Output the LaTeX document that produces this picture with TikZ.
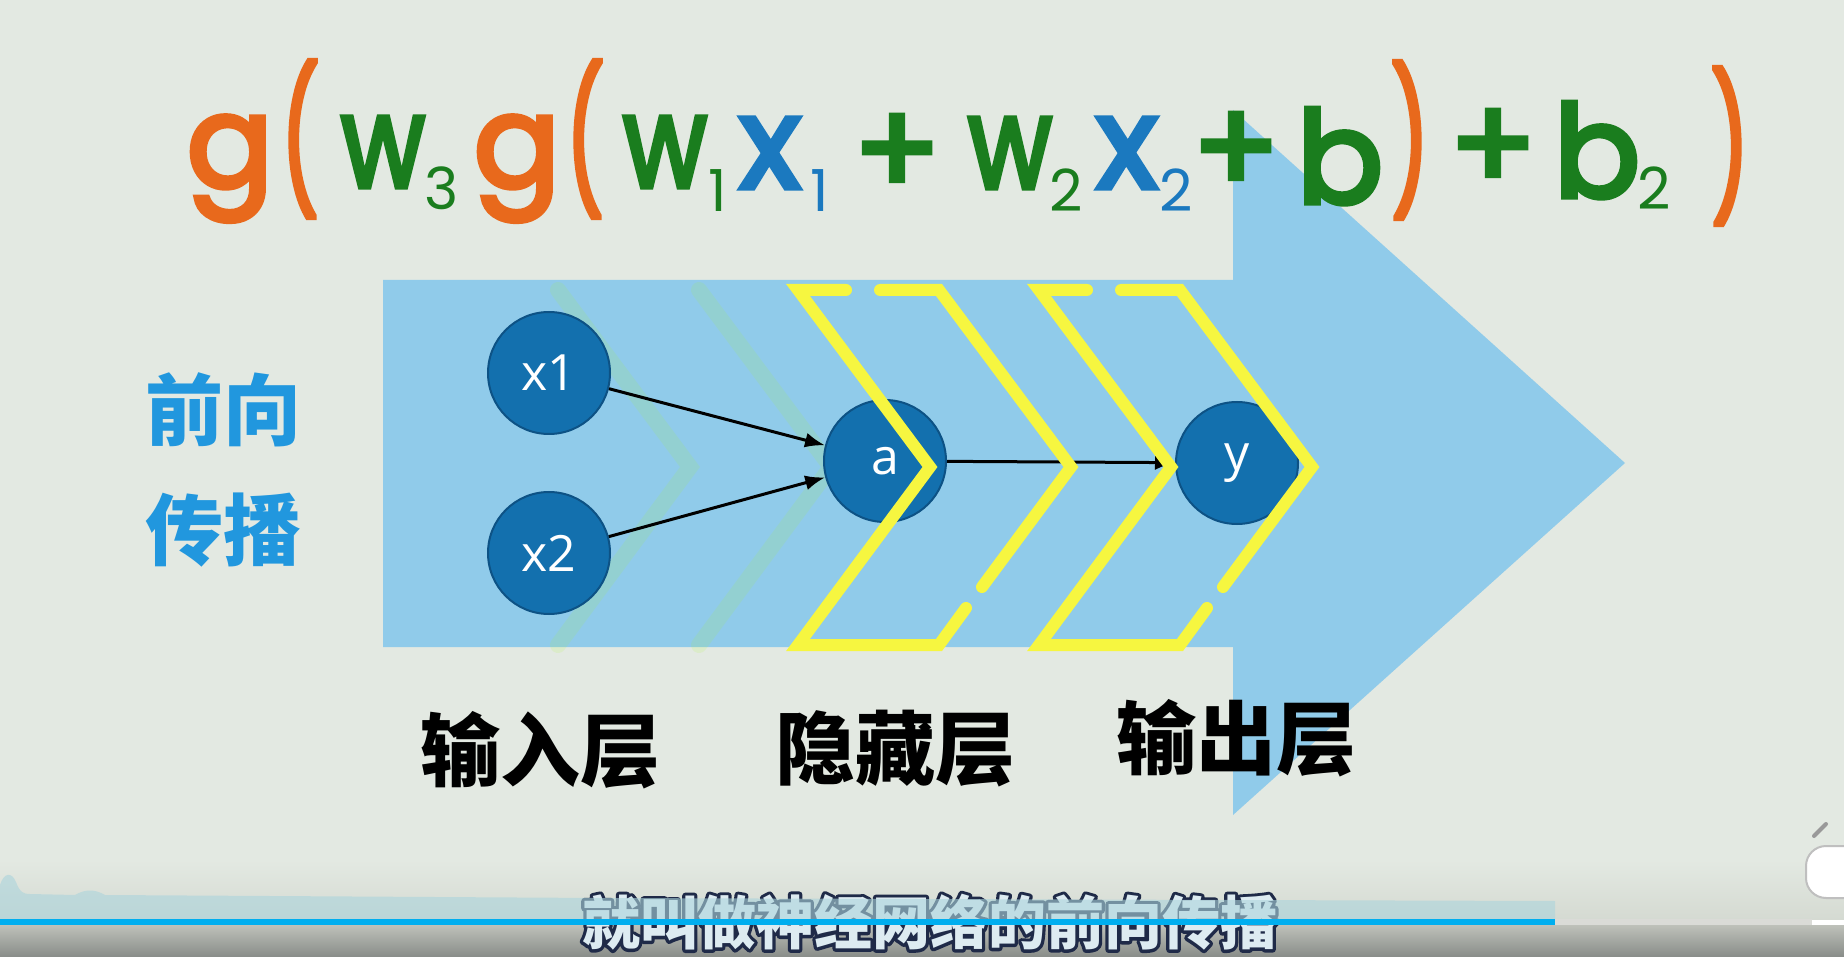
\documentclass[tikz,border=0pt]{standalone}
\usepackage{fontspec}
\usetikzlibrary{arrows.meta}
\newfontfamily\cjk{Noto Sans CJK SC}
\newfontfamily\formfont{Poppins}[FakeBold=4]
\newfontfamily\subfont{Poppins}
\newfontfamily\nodefont{Open Sans}
\definecolor{bgcol}{HTML}{E3E9E2}
\definecolor{arrowblue}{HTML}{90CBEA}
\definecolor{nodeblue}{HTML}{1370AE}
\definecolor{nodeedge}{HTML}{0D5285}
\definecolor{chevyellow}{HTML}{F6F640}
\definecolor{gorange}{HTML}{E8691C}
\definecolor{wgreen}{HTML}{1A7D1E}
\definecolor{xblue}{HTML}{1B79BF}
\definecolor{labelblue}{HTML}{2197DE}
\definecolor{barblue}{HTML}{00AEEF}
\definecolor{wavecol}{HTML}{ABD4DC}
\definecolor{subfill}{HTML}{DDEBF1}
\definecolor{subedge}{HTML}{1F2A48}
\definecolor{striptop}{HTML}{D5DAD2}
\definecolor{barrest}{HTML}{DADBD7}
\definecolor{ctrltop}{HTML}{BEC1BA}
\definecolor{ctrlbot}{HTML}{888C88}

\tikzset{
  neuron/.style={circle, minimum size=61pt, inner sep=0pt, fill=nodeblue, draw=nodeedge, line width=1pt, text=white, font=\nodefont\fontsize{25}{25}\selectfont},
  link/.style={-{Latex[length=10pt,width=7.5pt]}, line width=1.5pt, black},
  chevron/.style={chevyellow, line width=6pt, line cap=round, line join=miter},
  glyph/.style={inner sep=0pt, anchor=base, font=\formfont\fontsize{64}{64}\selectfont},
  subglyph/.style={inner sep=0pt, anchor=base, font=\subfont\fontsize{29}{29}\selectfont},
  paren/.style={inner sep=0pt, text=gorange, font=\formfont\fontsize{70}{70}\selectfont},
  layername/.style={inner sep=0pt, font=\cjk\bfseries\fontsize{40}{40}\selectfont},
  subtitle/.style={inner sep=0pt, font=\cjk\bfseries\fontsize{29}{29}\selectfont},
}
\newcommand{\slim}[1]{\scalebox{0.6}[1]{#1}}
\newcommand{\wslim}{\scalebox{0.8}[1]{w}}
\newcommand{\outlined}[1]{\special{pdf:literal direct 2 Tr 3.2 w 1 j}#1\special{pdf:literal direct 0 Tr}}

\begin{document}
\begin{tikzpicture}[x=0.5pt,y=-0.5pt]
\useasboundingbox (0,0) rectangle (1844,957);
\fill[bgcol] (0,0) rectangle (1844,919);
\shade[top color=bgcol, bottom color=striptop] (0,860) rectangle (1844,919);

% big arrow
\fill[arrowblue] (383,280) -- (1233,280) -- (1233,110) -- (1625,463) -- (1233,815) -- (1233,647) -- (383,647) -- cycle;

% faint trail of the chevron
\draw[chevron, draw=chevyellow!70!green, opacity=0.13, line width=8pt] (699,290) -- (831,467) -- (699,645) (558,290) -- (690,467) -- (558,645);

% network
\node[neuron] (x1) at (549,373) {x1};
\node[neuron] (x2) at (549,553) {x2};
\node[neuron] (a) at (885,461) {a};
\begin{scope}
\clip (1100,250) -- (1150,250) -- (1312,467) -- (1154,680) -- (1100,680) -- cycle;
\node[neuron] (y) at (1237,463) {y};
\end{scope}
\draw[link] (x1) -- (a);
\draw[link] (x2) -- (a);
\draw[link] (a) -- (y);

% yellow chevrons
\foreach \dx in {0,241}{
  \draw[chevron, shift={(\dx,0)}] (880,290) -- (939,290) -- (1071,467) -- (982,587);
  \draw[chevron, shift={(\dx,0)}] (966,608) -- (939,645) -- (798,645) -- (930,467) -- (798,290) -- (846,290);
}

% formula
\node[glyph, text=gorange] (g1) at (230,187) {g};
\node[paren] (lp1) at (300,139) {\slim{(}};
\node[glyph, text=wgreen] (w3) at (383,187) {\wslim};
\node[subglyph, text=wgreen] (s3) at (442,210) {3};
\node[glyph, text=gorange] (g2) at (517,187) {g};
\node[paren] (lp2) at (585,139) {\slim{(}};
\node[glyph, text=wgreen] (w1) at (665,187) {\wslim};
\node[subglyph, text=wgreen] (s1) at (718,212) {1};
\node[glyph, text=xblue] (x1t) at (770,188) {x};
\node[subglyph, text=xblue] (s1b) at (820,212) {1};
\node[glyph, text=wgreen, anchor=center] (plus1) at (897,155) {+};
\node[glyph, text=wgreen] (w2) at (1010,188) {\wslim};
\node[subglyph, text=wgreen] (s2) at (1066,212) {2};
\node[glyph, text=xblue] (x2t) at (1127,188) {x};
\node[subglyph, text=xblue] (s2b) at (1176,212) {2};
\node[glyph, text=wgreen, anchor=center] (plus2) at (1236,153) {+};
\node[glyph, text=wgreen] (b1) at (1340,203) {b};
\node[paren] (rp1) at (1410,140) {\slim{)}};
\node[glyph, text=wgreen, anchor=center] (plus3) at (1493,150) {+};
\node[glyph, text=wgreen] (b2) at (1597,197) {b};
\node[subglyph, text=wgreen] (s2c) at (1654,210) {2};
\node[paren] (rp2) at (1730,146) {\slim{)}};

% labels
\node[layername, text=labelblue, font=\cjk\bfseries\fontsize{39}{39}\selectfont] (fw1) at (223,410) {前向};
\node[layername, text=labelblue, font=\cjk\bfseries\fontsize{39}{39}\selectfont] (fw2) at (223,530) {传播};
\node[layername] (inlayer) at (540,750) {输入层};
\node[layername] (hidlayer) at (895,749) {隐藏层};
\node[layername] (outlayer) at (1236,738) {输出层};

% player strip
\shade[top color=ctrltop, bottom color=ctrlbot] (0,925) rectangle (1844,957);
\node[subtitle, text=subedge] (subedge) at (930,922) {\outlined{就叫做神经网络的前向传播}};
\node[subtitle, text=subfill] (subline) at (subedge) {就叫做神经网络的前向传播};
\fill[wavecol, opacity=0.6] (0,919) -- (0,885) .. controls (4,872) and (12,872) .. (16,882) .. controls (20,893) and (24,894) .. (30,894) -- (75,895) .. controls (85,889) and (95,889) .. (105,895) -- (600,898) -- (1555,901) -- (1555,919) -- cycle;
\fill[barblue] (0,919) rectangle (1555,925);
\fill[barrest] (1555,919) rectangle (1812,925);
\filldraw[fill=white, draw=black!25, line width=1pt, rounded corners=10pt] (1806,846) rectangle (1880,898);
\draw[black!40, line width=2pt, line cap=round] (1814,836) -- (1826,824);
\end{tikzpicture}
\end{document}
